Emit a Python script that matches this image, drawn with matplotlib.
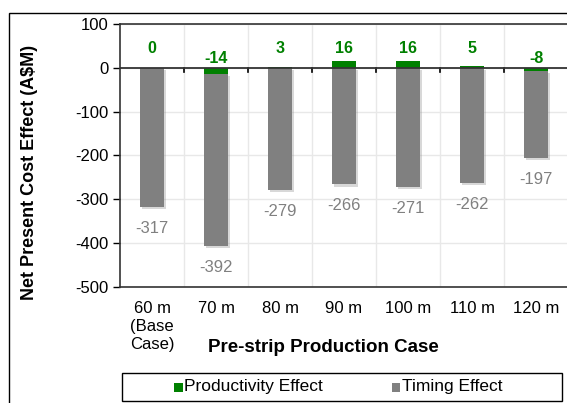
import matplotlib
matplotlib.use("Agg")
import matplotlib.pyplot as plt
import matplotlib.patheffects as pe
from matplotlib.patches import Rectangle
import numpy as np

plt.rcParams['font.family'] = ['Liberation Sans', 'DejaVu Sans']

cases = ["60 m\n(Base\nCase)", "70 m", "80 m", "90 m", "100 m", "110 m", "120 m"]
productivity = [0, -14, 3, 16, 16, 5, -8]
timing = [-317, -392, -279, -266, -271, -262, -197]
series_names = ["Productivity Effect", "Timing Effect"]

GREEN = "#008000"
GREY = "#808080"

W, H = 567, 403
fig = plt.figure(figsize=(W / 100, H / 100), dpi=100)

# outer chart frame
fig.add_artist(Rectangle((9 / W, -0.1), 1.2, 1 - 13 / H + 0.1, transform=fig.transFigure,
                         fill=False, edgecolor="#000000", linewidth=1.0))

left, right, top, bottom = 120, 568, 24, 287
ax = fig.add_axes([left / W, 1 - bottom / H, (right - left) / W, (bottom - top) / H])

x = np.arange(len(cases))
prod = np.array(productivity, dtype=float)
tim = np.array(timing, dtype=float)
# Excel-style stacking: negatives stack below negatives, positives above positives
tim_base = np.where(prod < 0, prod, 0)

shadow = [pe.SimplePatchShadow(offset=(1.2, -1.5), shadow_rgbFace="#909090", alpha=0.35), pe.Normal()]
bw = 0.38
b1 = ax.bar(x, prod, bw, color=GREEN, zorder=3)
b2 = ax.bar(x, tim, bw, bottom=tim_base, color=GREY, zorder=3)
for r in list(b2):
    r.set_path_effects(shadow)

ax.set_xlim(-0.5, len(cases) - 0.5)
ax.set_ylim(-500, 100)
ax.set_yticks(range(-500, 101, 100))
ax.set_yticklabels([str(v) for v in range(-500, 101, 100)], fontsize=12)

ax.set_xticks(x)
ax.set_xticklabels([])
ax.tick_params(axis='x', length=0)
ax.tick_params(axis='y', direction='out', length=5, width=1, pad=3)

# horizontal and vertical gridlines
for v in range(-500, 101, 100):
    ax.axhline(v, color="#e8e8e8", linewidth=1.0, zorder=0)
for b in np.arange(0.5, len(cases) - 0.5, 1):
    ax.axvline(b, color="#e8e8e8", linewidth=1.0, zorder=0)
    ax.plot([b, b], [0, -10], color="#000000", linewidth=1.2, zorder=4)
ax.axhline(0, color="#333333", linewidth=1.3, zorder=4)

for s in ax.spines.values():
    s.set_color("#333333")
    s.set_linewidth(1.2)

# category labels below the plot
for xi, lab in zip(x, cases):
    ax.annotate(lab, (xi, -500), xytext=(0, -10), textcoords="offset points",
                ha="center", va="top", fontsize=12, linespacing=1.25,
                annotation_clip=False)

# value labels
for xi, p in zip(x, prod):
    ypos = 45 if p >= 0 else 22
    ax.text(xi, ypos, f"{int(p)}", ha="center", va="center", fontsize=11.5,
            fontweight="bold", color=GREEN, zorder=5)
for xi, t, b in zip(x, tim, tim_base):
    ax.annotate(f"{int(t)}", (xi, t + b), xytext=(0, -10), textcoords="offset points",
                ha="center", va="top", fontsize=12, color=GREY, zorder=5)

fig.text(30 / W, 1 - 172 / H, "Net Present Cost Effect (A\\$M)", rotation=90,
         ha="center", va="center", fontsize=13, fontweight="bold")
fig.text(323 / W, 1 - 348 / H, "Pre-strip Production Case", ha="center", va="center",
         fontsize=13.5, fontweight="bold")

# legend box
fig.add_artist(Rectangle((122 / W, 1 - 401 / H), 440 / W, 28 / H, transform=fig.transFigure,
                         fill=True, facecolor="white", edgecolor="#000000", linewidth=1.0))
for mx, col, name in zip([178, 396], [GREEN, GREY], series_names):
    fig.add_artist(Rectangle(((mx - 4.5) / W, 1 - 391.5 / H), 9 / W, 9 / H,
                             transform=fig.transFigure, facecolor=col, edgecolor="none"))
    fig.text((mx + 6) / W, 1 - 387 / H, name, ha="left", va="center", fontsize=12.5)

fig.savefig("out.png", dpi=100)
